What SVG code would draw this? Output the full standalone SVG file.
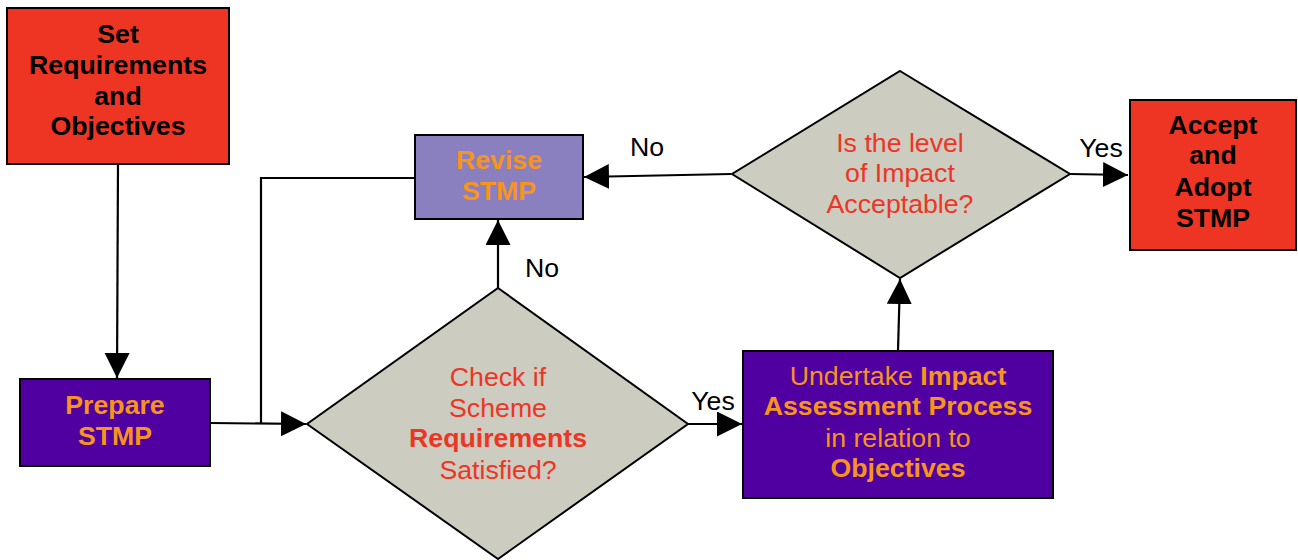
<svg xmlns="http://www.w3.org/2000/svg" width="1298" height="560" viewBox="0 0 1298 560">
<defs>
<marker id="arr" markerUnits="userSpaceOnUse" markerWidth="26" markerHeight="26" refX="25" refY="12.5" orient="auto">
<path d="M0,0 L25,12.5 L0,25 Z" fill="#000"/>
</marker>
<style>
text{font-family:"Liberation Sans",Arial,sans-serif;font-size:26.7px;text-anchor:middle}
.b{font-weight:bold}
.box{stroke:#000;stroke-width:2}
.red{fill:#EE3524}
.pur{fill:#5000A0}
.lpur{fill:#8B80BF}
.gray{fill:#CCCCC0}
.ot{fill:#F7941D}
.rt{fill:#EE3524}
.kt{fill:#000}
.conn{fill:none;stroke:#000;stroke-width:2.2}
</style>
</defs>
<rect width="1298" height="560" fill="#fff"/>
<g id="connectors">
<path class="conn" d="M118,164 L117,378" marker-end="url(#arr)"/>
<path class="conn" d="M210,423 L306,424" marker-end="url(#arr)"/>
<path class="conn" d="M261,424 L261,178 L415,178"/>
<path class="conn" d="M498,288 L498,220" marker-end="url(#arr)"/>
<path class="conn" d="M731,174 L584,177" marker-end="url(#arr)"/>
<path class="conn" d="M688,424 L742,424" marker-end="url(#arr)"/>
<path class="conn" d="M898,351 L900,279" marker-end="url(#arr)"/>
<path class="conn" d="M1070,174 L1128,175" marker-end="url(#arr)"/>
<text class="kt" x="647" y="156">No</text>
<text class="kt" x="542" y="277">No</text>
<text class="kt" x="713" y="410">Yes</text>
<text class="kt" x="1101" y="157">Yes</text>
</g>
<g id="set-requirements">
<rect class="box red" x="7" y="8" width="222" height="156"/>
<text class="b kt" x="118" y="43">Set</text>
<text class="b kt" x="118" y="74">Requirements</text>
<text class="b kt" x="118" y="105">and</text>
<text class="b kt" x="118" y="135">Objectives</text>
</g>
<g id="prepare-stmp">
<rect class="box pur" x="20" y="379" width="190" height="87"/>
<text class="b ot" x="115" y="414">Prepare</text>
<text class="b ot" x="115" y="445">STMP</text>
</g>
<g id="revise-stmp">
<rect class="box lpur" x="415" y="135" width="168" height="84"/>
<text class="b ot" x="499" y="169">Revise</text>
<text class="b ot" x="499" y="200">STMP</text>
</g>
<g id="check-requirements">
<polygon class="box gray" points="498,288 688,424 498,559 307,424"/>
<text class="rt" x="498" y="386">Check if</text>
<text class="rt" x="498" y="417">Scheme</text>
<text class="b rt" x="498" y="447">Requirements</text>
<text class="rt" x="498" y="479">Satisfied?</text>
</g>
<g id="impact-assessment">
<rect class="box pur" x="743" y="351" width="310" height="147"/>
<text class="ot" x="898" y="385">Undertake <tspan class="b">Impact</tspan></text>
<text class="b ot" x="898" y="415">Assessment Process</text>
<text class="ot" x="898" y="447">in relation to</text>
<text class="b ot" x="898" y="477">Objectives</text>
</g>
<g id="impact-acceptable">
<polygon class="box gray" points="900,71 1070,174 900,278 732,174"/>
<text class="rt" x="900" y="152">Is the level</text>
<text class="rt" x="900" y="182">of Impact</text>
<text class="rt" x="900" y="213">Acceptable?</text>
</g>
<g id="accept-adopt">
<rect class="box red" x="1130" y="100" width="166" height="150"/>
<text class="b kt" x="1213" y="134">Accept</text>
<text class="b kt" x="1213" y="164">and</text>
<text class="b kt" x="1213" y="196">Adopt</text>
<text class="b kt" x="1213" y="227">STMP</text>
</g>
</svg>
